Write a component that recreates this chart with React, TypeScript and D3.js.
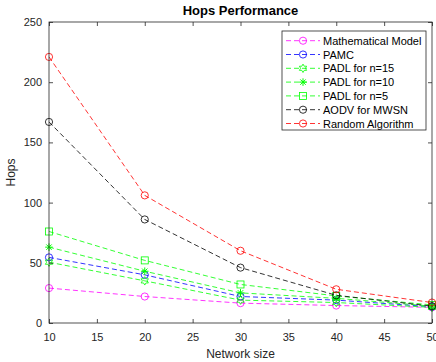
import React, { useEffect, useRef } from "react";
import * as d3 from "d3";

const networkSizes = [10, 20, 30, 40, 50];
const mathModel = [29, 22, 16.5, 14.5, 13];
const pamc = [54.5, 40, 22, 19, 13.5];
const padl15 = [50.5, 35, 19, 17, 13];
const padl10 = [63, 43, 25, 20.5, 14];
const padl5 = [76, 52, 32, 22.5, 15];
const aodv = [167, 86, 46, 23, 14];
const randomAlg = [221, 106, 60, 28, 17];

const seriesNames = [
  "Mathematical Model",
  "PAMC",
  "PADL for n=15",
  "PADL for n=10",
  "PADL for n=5",
  "AODV for MWSN",
  "Random Algorithm",
];
const seriesValues = [mathModel, pamc, padl15, padl10, padl5, aodv, randomAlg];
const seriesColors = ["#ff00ff", "#0000ff", "#00ff00", "#00ff00", "#00ff00", "#000000", "#ff0000"];
const seriesMarkers = ["circle", "circle", "hexagram", "asterisk", "square", "circle", "circle"];

const xTicks = [10, 15, 20, 25, 30, 35, 40, 45, 50];
const yTicks = [0, 50, 100, 150, 200, 250];

const App = () => {
  const svgRef = useRef(null);
  const svgWidth = 436;
  const svgHeight = 362;
  const margin = { top: 22, right: 4, bottom: 39, left: 49 };

  useEffect(() => {
    const innerWidth = svgWidth - margin.left - margin.right;
    const innerHeight = svgHeight - margin.top - margin.bottom;
    const font = "'Liberation Sans', Arial, sans-serif";
    const axisColor = "#262626";

    const svg = d3.select(svgRef.current);
    svg.selectAll("*").remove();

    svg.append("rect").attr("width", svgWidth).attr("height", svgHeight).attr("fill", "white");

    const xScale = d3.scaleLinear().domain([10, 50]).range([0, innerWidth]);
    const yScale = d3.scaleLinear().domain([0, 250]).range([innerHeight, 0]);

    const g = svg.append("g").attr("transform", `translate(${margin.left},${margin.top})`);

    // markers
    const drawMarker = (sel, type, color, x, y) => {
      if (type === "circle") {
        sel.append("circle").attr("cx", x).attr("cy", y).attr("r", 3.6)
          .attr("fill", "none").attr("stroke", color).attr("stroke-width", 0.8);
      } else if (type === "square") {
        sel.append("rect").attr("x", x - 3.5).attr("y", y - 3.5).attr("width", 7).attr("height", 7)
          .attr("fill", "none").attr("stroke", color).attr("stroke-width", 0.8);
      } else if (type === "asterisk") {
        const r = 3.8;
        [0, 45, 90, 135].forEach((a) => {
          const rad = (a * Math.PI) / 180;
          sel.append("line")
            .attr("x1", x - r * Math.cos(rad)).attr("y1", y - r * Math.sin(rad))
            .attr("x2", x + r * Math.cos(rad)).attr("y2", y + r * Math.sin(rad))
            .attr("stroke", color).attr("stroke-width", 1);
        });
      } else if (type === "hexagram") {
        const pts = [];
        for (let i = 0; i < 12; i++) {
          const ang = (i * Math.PI) / 6 - Math.PI / 2;
          const rr = i % 2 === 0 ? 4.2 : 2.4;
          pts.push([x + rr * Math.cos(ang), y + rr * Math.sin(ang)]);
        }
        sel.append("polygon").attr("points", pts.map((p) => p.join(",")).join(" "))
          .attr("fill", "none").attr("stroke", color).attr("stroke-width", 0.8);
      }
    };

    const line = d3.line().x((d) => xScale(d[0])).y((d) => yScale(d[1]));

    seriesValues.forEach((vals, i) => {
      const pts = networkSizes.map((n, j) => [n, vals[j]]);
      g.append("path").datum(pts).attr("d", line).attr("fill", "none")
        .attr("stroke", seriesColors[i]).attr("stroke-width", 0.8).attr("stroke-dasharray", "5,3");
      pts.forEach((p) => drawMarker(g, seriesMarkers[i], seriesColors[i], xScale(p[0]), yScale(p[1])));
    });

    // axes box
    g.append("rect").attr("width", innerWidth).attr("height", innerHeight)
      .attr("fill", "none").attr("stroke", axisColor).attr("stroke-width", 0.8);

    const xAxisG = g.append("g").attr("transform", `translate(0,${innerHeight})`)
      .call(d3.axisBottom(xScale).tickValues(xTicks).tickSize(-4).tickPadding(10));
    const yAxisG = g.append("g")
      .call(d3.axisLeft(yScale).tickValues(yTicks).tickSize(-4).tickPadding(7));
    const xTopG = g.append("g")
      .call(d3.axisTop(xScale).tickValues(xTicks).tickSize(-4).tickFormat(() => ""));
    const yRightG = g.append("g").attr("transform", `translate(${innerWidth},0)`)
      .call(d3.axisRight(yScale).tickValues(yTicks).tickSize(-4).tickFormat(() => ""));

    [xAxisG, yAxisG, xTopG, yRightG].forEach((a) => {
      a.select(".domain").remove();
      a.selectAll("line").attr("stroke", axisColor).attr("stroke-width", 0.8);
      a.selectAll("text").attr("fill", axisColor).style("font-family", font).style("font-size", "11px");
    });

    g.append("text").attr("x", innerWidth / 2).attr("y", innerHeight + 35)
      .attr("text-anchor", "middle").attr("fill", axisColor)
      .style("font-family", font).style("font-size", "12px").text("Network size");

    g.append("text").attr("transform", `translate(${-34},${innerHeight / 2}) rotate(-90)`)
      .attr("text-anchor", "middle").attr("fill", axisColor)
      .style("font-family", font).style("font-size", "12px").text("Hops");

    g.append("text").attr("x", innerWidth / 2).attr("y", -7)
      .attr("text-anchor", "middle").attr("fill", "black").attr("font-weight", "bold")
      .style("font-family", font).style("font-size", "13px").text("Hops Performance");

    // legend
    const legend = svg.append("g").attr("transform", "translate(282,31)");
    legend.append("rect").attr("width", 144).attr("height", 99)
      .attr("fill", "white").attr("stroke", axisColor).attr("stroke-width", 0.8);
    seriesNames.forEach((name, i) => {
      const y = 9.7 + i * 13.8;
      legend.append("line").attr("x1", 4).attr("x2", 38).attr("y1", y).attr("y2", y)
        .attr("stroke", seriesColors[i]).attr("stroke-width", 0.8).attr("stroke-dasharray", "5,3");
      drawMarker(legend, seriesMarkers[i], seriesColors[i], 21, y);
      legend.append("text").attr("x", 41).attr("y", y + 4)
        .attr("fill", "black").style("font-family", font).style("font-size", "11px").text(name);
    });
  }, []);

  return (
    <svg ref={svgRef} width={svgWidth} height={svgHeight} style={{ display: "block", position: "absolute", left: 0, top: 0 }}></svg>
  );
};

export default App;
